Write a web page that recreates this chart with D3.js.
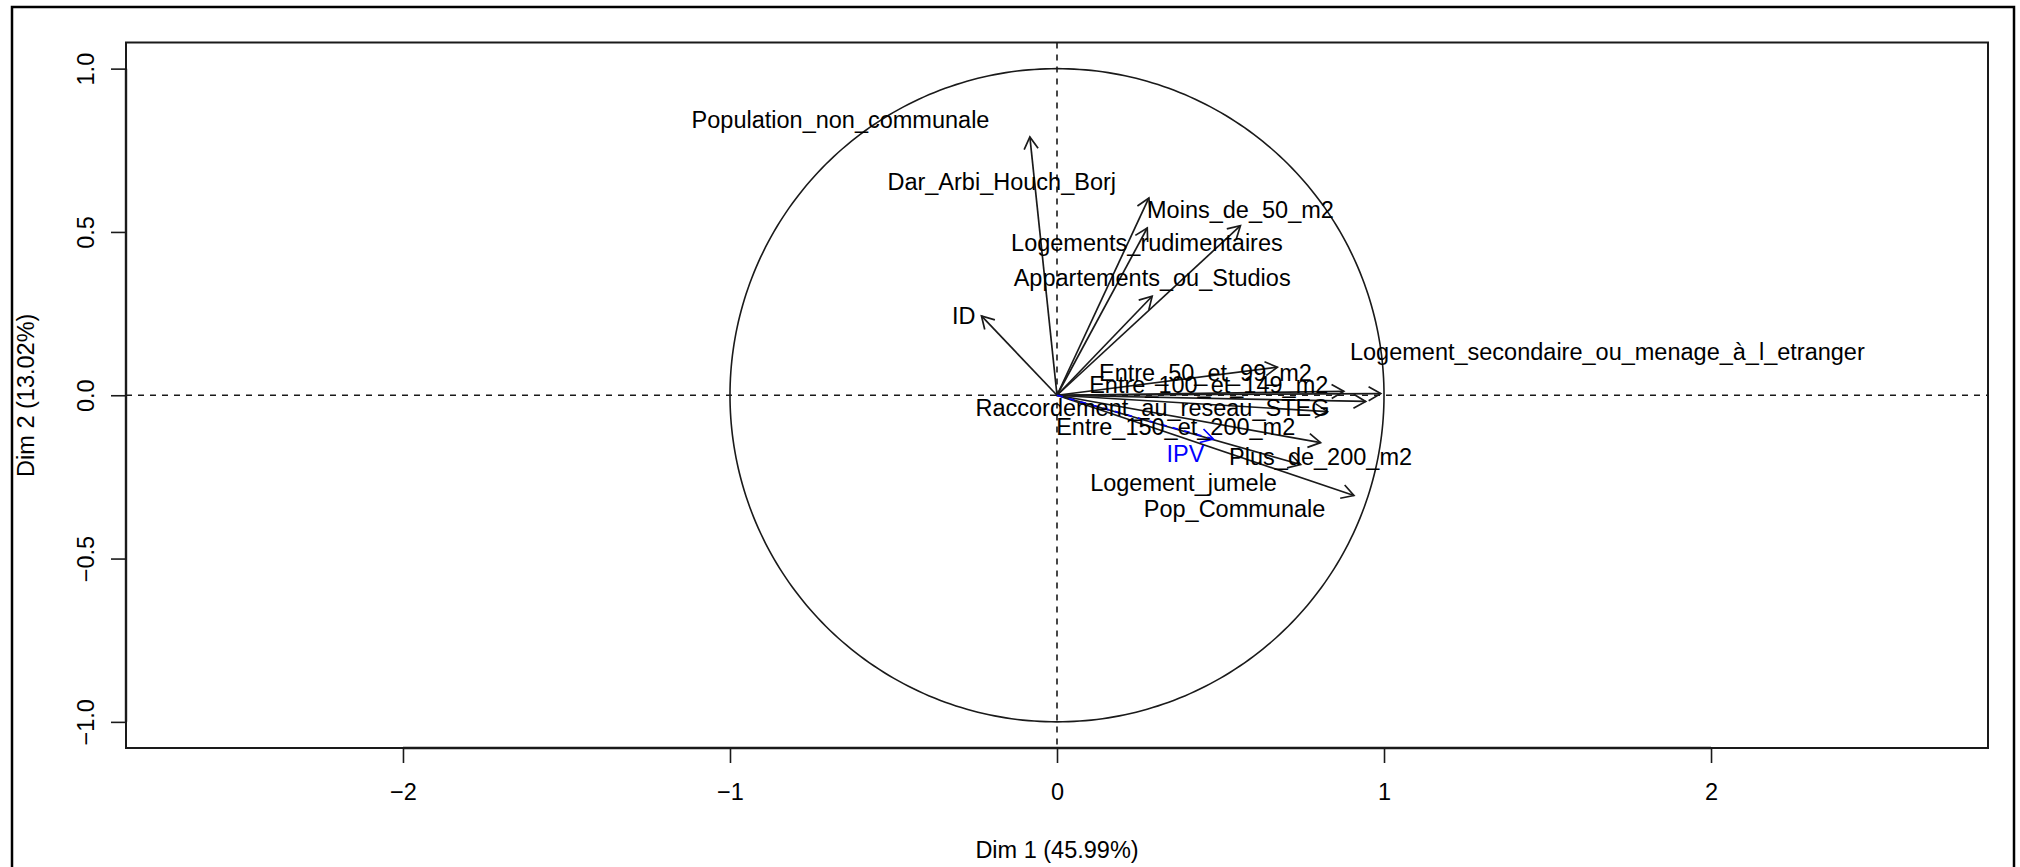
<!DOCTYPE html>
<html>
<head>
<meta charset="utf-8">
<script src="https://cdn.jsdelivr.net/npm/d3@7"></script>
<style>
  html, body { margin: 0; padding: 0; background: #fff; }
  svg { display: block; }
  text { font-family: "Liberation Sans", Arial, sans-serif; }
</style>
</head>
<body>
<svg id="chart" width="2020" height="867"></svg>
<script>
// ---- data (coordinates on Dim 1 / Dim 2) ----
const variables = [
  "Population_non_communale", "Dar_Arbi_Houch_Borj", "Moins_de_50_m2",
  "Logements_rudimentaires", "Appartements_ou_Studios", "ID",
  "Logement_secondaire_ou_menage_à_l_etranger", "Entre_50_et_99_m2",
  "Entre_100_et_149_m2", "Raccordement_au_reseau_STEG", "Entre_150_et_200_m2",
  "Plus_de_200_m2", "Logement_jumele", "Pop_Communale"
];
const dim1 = [-0.083, 0.281, 0.561, 0.276, 0.291, -0.231, 0.990, 0.674, 0.877, 0.944, 0.827, 0.806, 0.745, 0.908];
const dim2 = [ 0.791, 0.604, 0.519, 0.512, 0.303,  0.243, 0.005, 0.086, 0.012, -0.019, -0.050, -0.145, -0.212, -0.307];
// label anchor points (after label de-overlapping), in the same units
const labDim1 = [-0.662, -0.169, 0.561, 0.275, 0.291, -0.285, 1.683, 0.454, 0.464, 0.292, 0.363, 0.806, 0.387, 0.543];
const labDim2 = [ 0.844,  0.655, 0.568, 0.466, 0.359,  0.243, 0.133, 0.070, 0.032, -0.039, -0.096, -0.188, -0.267, -0.348];

// supplementary variable
const suppName = ["IPV"];
const suppDim1 = [0.478];
const suppDim2 = [-0.134];
const suppLabDim1 = [0.393];
const suppLabDim2 = [-0.179];

const xTicks = [-2, -1, 0, 1, 2];
const yTicks = [-1.0, -0.5, 0.0, 0.5, 1.0];
const xLabel = "Dim 1 (45.99%)";
const yLabel = "Dim 2 (13.02%)";
const xLim = [-2.847, 2.847];
const yLim = [-1.08, 1.08];

// ---- layout ----
const svg = d3.select("#chart");
const pL = 126, pR = 1988, pT = 42.5, pB = 748;
const FS = 23.5;
const ink = "#1a1a1a";

const x = d3.scaleLinear().domain(xLim).range([pL, pR]);
const y = d3.scaleLinear().domain(yLim).range([pB, pT]);

// outer frame
svg.append("rect").attr("x", 12).attr("y", 7).attr("width", 2002).attr("height", 900)
  .attr("fill", "none").attr("stroke", "#000").attr("stroke-width", 2.5);

// plot box
svg.append("rect").attr("x", pL).attr("y", pT).attr("width", pR - pL).attr("height", pB - pT)
  .attr("fill", "none").attr("stroke", ink).attr("stroke-width", 2);

// dashed reference lines
svg.append("line").attr("x1", pL).attr("x2", pR).attr("y1", y(0)).attr("y2", y(0))
  .attr("stroke", ink).attr("stroke-width", 1.6).attr("stroke-dasharray", "6,6");
svg.append("line").attr("x1", x(0)).attr("x2", x(0)).attr("y1", pT).attr("y2", pB)
  .attr("stroke", ink).attr("stroke-width", 1.6).attr("stroke-dasharray", "6,6");

// correlation circle
const circ = d3.range(0, 361).map(a => [Math.cos(a * Math.PI / 180), Math.sin(a * Math.PI / 180)]);
svg.append("path")
  .attr("d", d3.line().x(d => x(d[0])).y(d => y(d[1]))(circ))
  .attr("fill", "none").attr("stroke", ink).attr("stroke-width", 1.6);

const fmt = v => d3.format(".0f")(v).replace("-", "\u2212");
const fmtY = v => d3.format(".1f")(v).replace("-", "\u2212");

// x axis
const gx = svg.append("g").attr("transform", `translate(0,${pB})`)
  .call(d3.axisBottom(x).tickValues(xTicks).tickSize(15).tickPadding(22).tickFormat(fmt));
gx.select(".domain").remove();
gx.append("line").attr("x1", x(xTicks[0])).attr("x2", x(xTicks[xTicks.length - 1]))
  .attr("y1", 0).attr("y2", 0).attr("stroke", ink).attr("stroke-width", 2.4);
gx.selectAll(".tick line").attr("stroke", ink).attr("stroke-width", 1.6);
gx.selectAll(".tick text").attr("font-size", FS).attr("fill", "#000")
  .attr("font-family", "Liberation Sans, Arial, sans-serif")
  .attr("dy", null).attr("y", 52);

// y axis
const gy = svg.append("g").attr("transform", `translate(${pL},0)`)
  .call(d3.axisLeft(y).tickValues(yTicks).tickSize(15).tickFormat(fmtY));
gy.select(".domain").remove();
gy.append("line").attr("y1", y(yTicks[0])).attr("y2", y(yTicks[yTicks.length - 1]))
  .attr("x1", 0).attr("x2", 0).attr("stroke", ink).attr("stroke-width", 2.4);
gy.selectAll(".tick line").attr("stroke", ink).attr("stroke-width", 1.6);
gy.selectAll(".tick text").attr("font-size", FS).attr("fill", "#000")
  .attr("font-family", "Liberation Sans, Arial, sans-serif")
  .attr("x", null).attr("dy", null).attr("text-anchor", "middle")
  .attr("transform", "translate(-32,0) rotate(-90)");

// axis titles
svg.append("text").attr("x", x(0)).attr("y", 858).attr("text-anchor", "middle")
  .attr("font-size", FS).attr("fill", "#000").text(xLabel);
svg.append("text").attr("transform", `translate(34,${y(0)}) rotate(-90)`).attr("text-anchor", "middle")
  .attr("font-size", FS).attr("fill", "#000").text(yLabel);

// arrows
function arrow(g, x1, y1, color, dashed) {
  const x0 = x(0), y0 = y(0);
  g.append("line").attr("x1", x0).attr("y1", y0).attr("x2", x1).attr("y2", y1)
    .attr("stroke", color).attr("stroke-width", 1.7)
    .attr("stroke-dasharray", dashed ? "6,6" : null);
  const ang = Math.atan2(y1 - y0, x1 - x0);
  const L = 14, a = Math.PI / 6;
  const p1 = [x1 - L * Math.cos(ang - a), y1 - L * Math.sin(ang - a)];
  const p2 = [x1 - L * Math.cos(ang + a), y1 - L * Math.sin(ang + a)];
  g.append("path").attr("d", `M${p1[0]},${p1[1]}L${x1},${y1}L${p2[0]},${p2[1]}`)
    .attr("fill", "none").attr("stroke", color).attr("stroke-width", 1.7);
}

const gArrows = svg.append("g");
variables.forEach((v, i) => arrow(gArrows, x(dim1[i]), y(dim2[i]), ink, false));
suppName.forEach((v, i) => arrow(gArrows, x(suppDim1[i]), y(suppDim2[i]), "#0000FF", true));

// labels
const gLab = svg.append("g");
gLab.selectAll("text.var").data(variables).join("text").attr("class", "var")
  .attr("x", (d, i) => x(labDim1[i])).attr("y", (d, i) => y(labDim2[i]))
  .attr("dy", "0.35em").attr("text-anchor", "middle")
  .attr("font-size", FS).attr("fill", "#000").text(d => d);
gLab.selectAll("text.sup").data(suppName).join("text").attr("class", "sup")
  .attr("x", (d, i) => x(suppLabDim1[i])).attr("y", (d, i) => y(suppLabDim2[i]))
  .attr("dy", "0.35em").attr("text-anchor", "middle")
  .attr("font-size", FS).attr("fill", "#0000FF").text(d => d);
</script>
</body>
</html>
